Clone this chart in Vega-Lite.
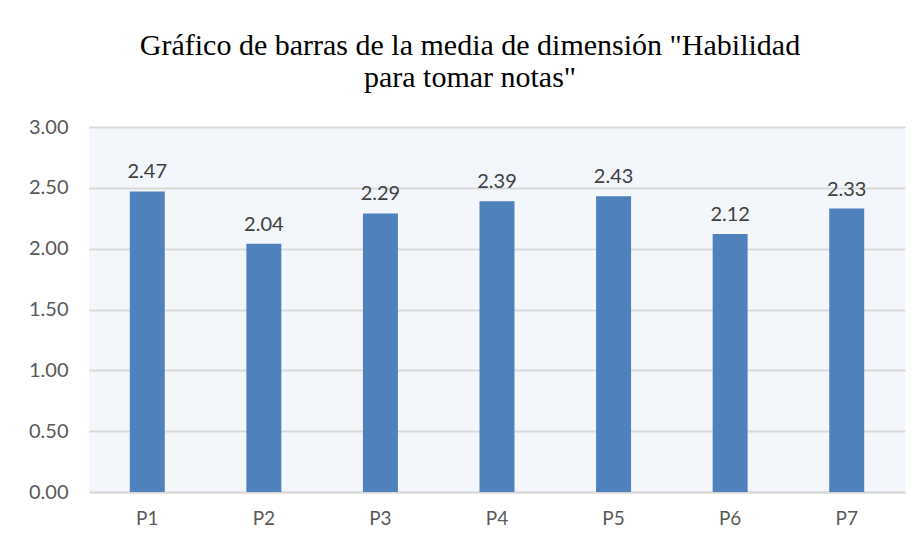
{
  "$schema": "https://vega.github.io/schema/vega-lite/v6.json",
  "width": 816,
  "height": 365,
  "autosize": {"type": "none"},
  "padding": {"left": 89, "top": 127, "right": 18, "bottom": 54},
  "background": "white",
  "title": {
    "text": ["Gráfico  de barras de la media de dimensión \"Habilidad", "para tomar notas\""],
    "font": "Liberation Serif",
    "fontSize": 30,
    "fontWeight": "normal",
    "color": "#000000",
    "anchor": "middle",
    "dx": -27,
    "offset": 24,
    "lineHeight": 32
  },
  "config": {
    "view": {"fill": "#f3f6fb", "stroke": null},
    "axis": {"labelFont": "Lato", "labelColor": "#595959", "domain": false, "ticks": false, "title": null}
  },
  "data": {
    "values": [
      {"p": "P1", "v": 2.47},
      {"p": "P2", "v": 2.04},
      {"p": "P3", "v": 2.29},
      {"p": "P4", "v": 2.39},
      {"p": "P5", "v": 2.43},
      {"p": "P6", "v": 2.12},
      {"p": "P7", "v": 2.33}
    ]
  },
  "encoding": {
    "x": {
      "field": "p", "type": "nominal", "sort": null,
      "scale": {"paddingInner": 0.7, "paddingOuter": 0.35},
      "axis": {"labelAngle": 0, "labelFontSize": 19, "labelPadding": 17, "domain": true, "domainColor": "#d9d9d9", "domainWidth": 2, "grid": false}
    },
    "y": {
      "field": "v", "type": "quantitative",
      "scale": {"domain": [0, 3]},
      "axis": {"values": [0, 0.5, 1, 1.5, 2, 2.5, 3], "format": ".2f", "labelFontSize": 20, "labelPadding": 21, "gridColor": "#d9d9d9", "gridWidth": 2}
    }
  },
  "layer": [
    {"mark": {"type": "bar", "color": "#4f81bd"}},
    {
      "mark": {"type": "text", "baseline": "bottom", "dy": -9, "font": "Lato", "fontSize": 20, "color": "#404040"},
      "encoding": {"text": {"field": "v", "type": "quantitative", "format": ".2f"}}
    }
  ]
}
